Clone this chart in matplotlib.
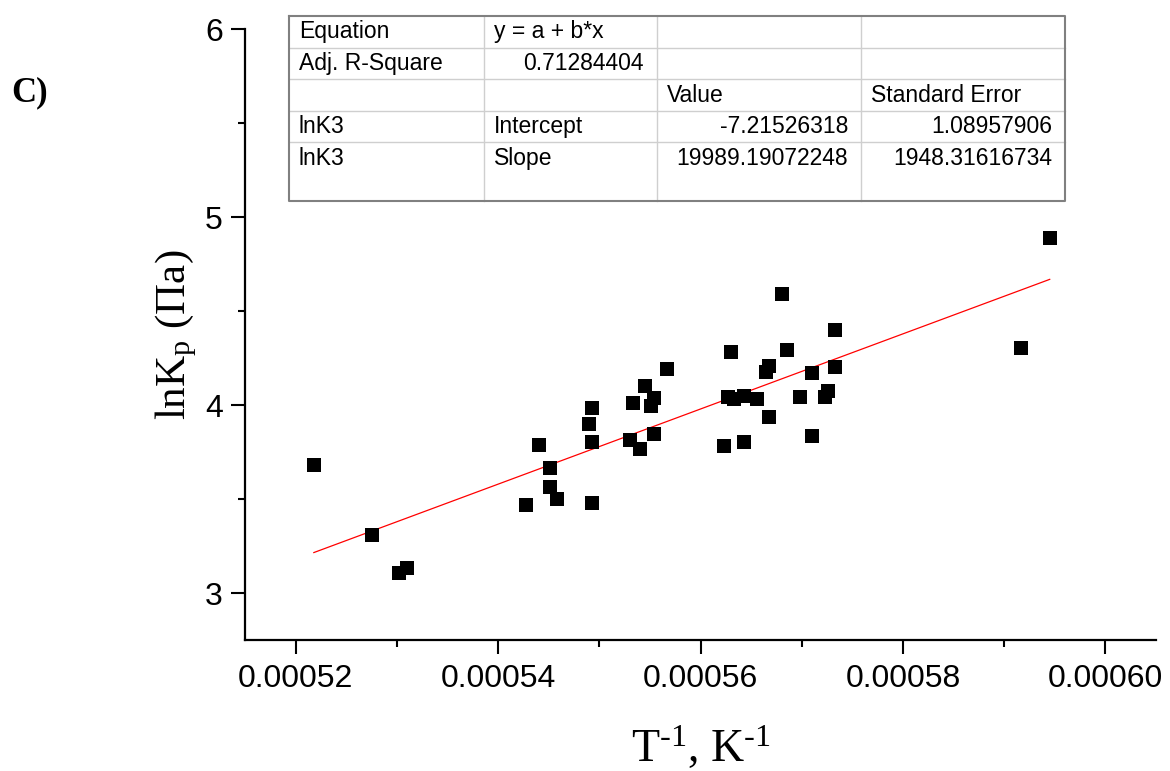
import numpy as np
import matplotlib
matplotlib.use("Agg")
import matplotlib.pyplot as plt
from matplotlib.ticker import FixedLocator

# data
inv_t = [0.0005218, 0.0005275, 0.0005302, 0.0005310, 0.0005428, 0.0005440,
         0.0005451, 0.0005451, 0.0005458, 0.0005493, 0.0005490, 0.0005493,
         0.0005493, 0.0005530, 0.0005533, 0.0005540, 0.0005545, 0.0005551,
         0.0005554, 0.0005554, 0.0005567, 0.0005623, 0.0005627, 0.0005630,
         0.0005633, 0.0005643, 0.0005643, 0.0005656, 0.0005665, 0.0005668,
         0.0005668, 0.0005681, 0.0005685, 0.0005698, 0.0005710, 0.0005710,
         0.0005723, 0.0005726, 0.0005733, 0.0005733, 0.0005917, 0.0005945]
ln_kp = [3.681, 3.309, 3.108, 3.131, 3.466, 3.789,
         3.665, 3.564, 3.500, 3.984, 3.899, 3.803,
         3.479, 3.814, 4.012, 3.766, 4.101, 3.995,
         4.037, 3.846, 4.191, 3.782, 4.043, 4.282,
         4.032, 4.048, 3.803, 4.032, 4.176, 4.207,
         3.936, 4.590, 4.293, 4.043, 4.170, 3.835,
         4.043, 4.074, 4.202, 4.399, 4.303, 4.888]

intercept = -7.21526318
slope = 19989.19072248

x_ticks = [0.00052, 0.00054, 0.00056, 0.00058, 0.00060]
x_tick_labels = ["0.00052", "0.00054", "0.00056", "0.00058", "0.00060"]
x_minor = [0.00053, 0.00055, 0.00057, 0.00059]
y_ticks = [3, 4, 5, 6]
y_tick_labels = ["3", "4", "5", "6"]
y_minor = [3.5, 4.5, 5.5]

table_rows = [
    ["Equation", "y = a + b*x", "", ""],
    ["Adj. R-Square", "0.71284404", "", ""],
    ["", "", "Value", "Standard Error"],
    ["lnK3", "Intercept", "-7.21526318", "1.08957906"],
    ["lnK3", "Slope", "19989.19072248", "1948.31616734"],
]

plt.rcParams["font.family"] = ["Liberation Sans", "DejaVu Sans"]
plt.rcParams["mathtext.fontset"] = "custom"
plt.rcParams["mathtext.rm"] = "Liberation Serif"
plt.rcParams["mathtext.it"] = "Liberation Serif:italic"

W, H = 1170, 771
fig = plt.figure(figsize=(W / 100, H / 100), dpi=100)
ax = fig.add_axes([245 / W, (H - 640) / H, 911 / W, 611 / H])

ax.plot(inv_t, ln_kp, "s", color="black", markersize=9.5, markeredgewidth=0,
        clip_on=False, zorder=3)
x_fit = np.array([min(inv_t), max(inv_t)])
ax.plot(x_fit, intercept + slope * x_fit, color="red", lw=0.9, zorder=2)

ax.set_xlim(0.000515, 0.000605)
ax.set_ylim(2.75, 6)
ax.xaxis.set_major_locator(FixedLocator(x_ticks))
ax.set_xticklabels(x_tick_labels)
ax.xaxis.set_minor_locator(FixedLocator(x_minor))
ax.yaxis.set_major_locator(FixedLocator(y_ticks))
ax.set_yticklabels(y_tick_labels)
ax.yaxis.set_minor_locator(FixedLocator(y_minor))

for s in ["top", "right"]:
    ax.spines[s].set_visible(False)
for s in ["left", "bottom"]:
    ax.spines[s].set_linewidth(1.6)

ax.tick_params(which="major", direction="out", length=10, width=1.5)
ax.tick_params(which="minor", direction="out", length=5, width=1.5)
ax.tick_params(axis="x", which="major", labelsize=23, pad=7)
ax.tick_params(axis="y", which="major", labelsize=23, pad=6)

ax.set_xlabel("T$^{\\mathrm{\u2010}1}$, K$^{\\mathrm{\u2010}1}$",
              family="Liberation Serif", fontsize=33, labelpad=22)
ax.set_ylabel(r"lnK$_{\mathrm{p}}$ (Па)", family="Liberation Serif",
              fontsize=31, labelpad=4)

# overlay in pixel coordinates for the fit table and panel letter
ov = fig.add_axes([0, 0, 1, 1])
ov.set_xlim(0, W)
ov.set_ylim(H, 0)
ov.axis("off")

ov.text(30, 93, "C)", family="Liberation Serif", fontweight="bold",
        fontsize=25, ha="center", va="center")

col_x = [289, 484, 657, 861, 1065]
row_y = [16, 47.6, 79.2, 110.8, 142.4, 201]
ov.add_patch(plt.Rectangle((col_x[0], row_y[0]), col_x[-1] - col_x[0],
                           row_y[-1] - row_y[0], facecolor="white",
                           edgecolor="none", zorder=1))
for y in row_y[1:-1]:
    ov.plot([col_x[0], col_x[-1]], [y, y], color="#cfcfcf", lw=1, zorder=2)
for x in col_x[1:-1]:
    ov.plot([x, x], [row_y[0], row_y[-1]], color="#cfcfcf", lw=1, zorder=2)
ov.plot([col_x[0], col_x[-1], col_x[-1], col_x[0], col_x[0]],
        [row_y[0], row_y[0], row_y[-1], row_y[-1], row_y[0]],
        color="#808080", lw=1.5, zorder=3)

for r, row in enumerate(table_rows):
    yc = row_y[r] + 15.8
    for c, txt in enumerate(row):
        if not txt:
            continue
        numeric = txt[0].isdigit() or txt[0] == "-"
        if numeric:
            ov.text(col_x[c + 1] - 13, yc, txt, fontsize=16.5, ha="right",
                    va="center", zorder=4)
        else:
            ov.text(col_x[c] + 10, yc, txt, fontsize=16.5, ha="left",
                    va="center", zorder=4)

fig.savefig("out.png", dpi=100)
